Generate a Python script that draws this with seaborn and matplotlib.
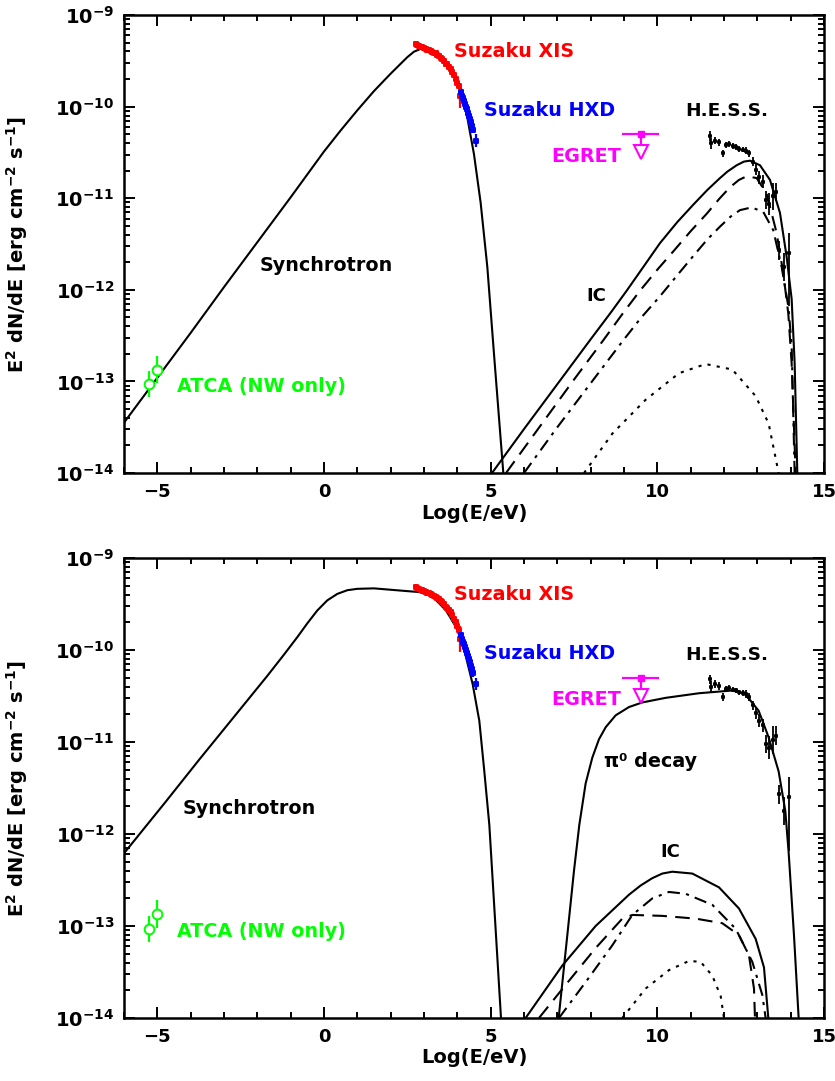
import numpy as np
import pandas as pd
import matplotlib
matplotlib.use('Agg')
import matplotlib.pyplot as plt
import seaborn as sns
from matplotlib.ticker import MultipleLocator, LogLocator, NullFormatter

# all values: x = log10(E/eV), y = log10(E^2 dN/dE)

# --- panel a (leptonic) ---
sync_a_x = [-6, -5, -4, -3, -2, -1, 0, 0.5, 1, 1.5, 2.0, 2.25, 2.5, 2.7, 2.9, 3.1, 3.3, 3.5, 3.7, 3.9,
            4.1, 4.3, 4.5, 4.7, 4.9, 5.1, 5.38]
sync_a_y = [-13.45, -12.96, -12.47, -11.97, -11.48, -10.99, -10.49, -10.26, -10.04, -9.83, -9.64, -9.55,
            -9.46, -9.40, -9.37, -9.37, -9.40, -9.45, -9.53, -9.64, -9.83, -10.12, -10.52, -11.05,
            -11.75, -12.7, -14.0]

ic_a_x = [5.04, 6.0, 7.0, 8.0, 8.6, 9.08, 9.6, 10.08, 10.6, 11.08, 11.5, 11.88, 12.1, 12.38, 12.6, 12.78,
          13.08, 13.38, 13.68, 13.88, 14.03, 14.12, 14.2]
ic_a_y = [-14.0, -13.52, -13.03, -12.54, -12.25, -12.01, -11.74, -11.49, -11.26, -11.07, -10.91, -10.78,
          -10.71, -10.64, -10.60, -10.59, -10.64, -10.80, -11.16, -11.64, -12.1, -12.8, -14.0]
ic_a2_x = [5.46, 6.5, 7.5, 8.38, 9.0, 9.48, 10.0, 10.48, 11.0, 11.48, 11.85, 12.18, 12.45, 12.68, 12.98,
           13.28, 13.58, 13.78, 13.93, 14.03, 14.15]
ic_a2_y = [-14.0, -13.48, -12.98, -12.55, -12.24, -12.01, -11.78, -11.58, -11.36, -11.17, -11.01, -10.88,
           -10.80, -10.76, -10.78, -10.95, -11.38, -11.82, -12.26, -12.8, -14.0]
ic_a3_x = [6.0, 7.0, 8.0, 8.98, 9.5, 10.08, 10.6, 11.08, 11.5, 11.88, 12.2, 12.48, 12.83, 13.18, 13.48,
           13.73, 13.93, 14.03, 14.12]
ic_a3_y = [-14.0, -13.5, -13.02, -12.55, -12.31, -12.07, -11.84, -11.63, -11.45, -11.31, -11.20, -11.13,
           -11.10, -11.15, -11.35, -11.75, -12.18, -12.6, -14.0]
ic_a4_x = [7.8, 8.65, 9.65, 10.65, 11.45, 12.25, 12.95, 13.34, 13.64]
ic_a4_y = [-14.0, -13.57, -13.20, -12.91, -12.81, -12.87, -13.16, -13.46, -14.0]

# --- panel b (hadronic) ---
sync_b_x = [-6, -4.75, -3.74, -2.73, -1.72, -1.2, -0.8, -0.5, -0.2, 0.1, 0.4, 0.7, 1.0, 1.5, 2.0, 2.5,
            2.86, 3.26, 3.66, 3.96, 4.16, 4.31, 4.46, 4.66, 4.81, 4.96, 5.31]
sync_b_y = [-12.21, -11.65, -11.19, -10.74, -10.29, -10.05, -9.86, -9.71, -9.57, -9.46, -9.39, -9.35,
            -9.335, -9.33, -9.345, -9.36, -9.37, -9.42, -9.57, -9.75, -9.93, -10.15, -10.37, -10.77,
            -11.32, -11.9, -14.0]

pi0_x = [7.04, 7.3, 7.5, 7.66, 7.85, 8.05, 8.25, 8.45, 8.75, 9.15, 9.55, 10.25, 11.25, 12.25, 12.64,
         13.04, 13.34, 13.64, 13.84, 13.94, 14.1, 14.24]
pi0_y = [-14.0, -13.1, -12.4, -11.9, -11.45, -11.17, -10.97, -10.84, -10.71, -10.62, -10.57, -10.52,
         -10.47, -10.44, -10.48, -10.66, -10.95, -11.32, -11.75, -12.2, -13.1, -14.0]

ic_b_x = [6.05, 7.15, 8.15, 9.15, 9.5, 9.85, 10.15, 10.45, 11.05, 11.85, 12.45, 12.95, 13.2, 13.33]
ic_b_y = [-14.0, -13.43, -13.0, -12.66, -12.56, -12.48, -12.43, -12.41, -12.43, -12.58, -12.81, -13.14,
          -13.45, -14.0]
ic_b2_x = [6.45, 7.25, 8.15, 8.95, 9.25, 10.15, 11.15, 11.95, 12.45, 12.75, 12.9, 12.93]
ic_b2_y = [-14.0, -13.64, -13.24, -12.92, -12.88, -12.89, -12.92, -12.97, -13.10, -13.32, -13.68, -14.0]
ic_b3_x = [7.05, 7.85, 8.65, 9.25, 9.85, 10.35, 10.85, 11.65, 12.35, 12.85, 13.15, 13.25]
ic_b3_y = [-14.0, -13.61, -13.21, -12.88, -12.70, -12.63, -12.65, -12.77, -13.03, -13.39, -13.75, -14.0]
ic_b4_x = [8.95, 9.65, 10.35, 10.95, 11.3, 11.65, 11.9, 12.0]
ic_b4_y = [-14.0, -13.68, -13.48, -13.38, -13.39, -13.54, -13.76, -14.0]

# --- data points (same in both panels) ---
atca_x = [-5.25, -5.0]
atca_y = [-13.03, -12.87]
atca_err = [0.14, 0.15]

xis_x = [2.76, 2.80, 2.85, 2.90, 2.95, 3.00, 3.05, 3.10, 3.15, 3.20, 3.25, 3.30, 3.35, 3.40,
         3.45, 3.50, 3.55, 3.60, 3.65, 3.70, 3.75, 3.80, 3.85, 3.90, 3.95, 4.00, 4.04, 4.08]
xis_y = [-9.32, -9.33, -9.34, -9.35, -9.35, -9.36, -9.37, -9.38, -9.38, -9.39, -9.40, -9.41, -9.42, -9.44,
         -9.45, -9.47, -9.48, -9.50, -9.53, -9.54, -9.57, -9.59, -9.62, -9.66, -9.70, -9.74, -9.78, -9.88]
xis_err = [0.03] * 27 + [0.14]

hxd_x = [4.11, 4.14, 4.17, 4.20, 4.23, 4.26, 4.29, 4.32, 4.35, 4.38, 4.41, 4.44, 4.47, 4.56]
hxd_y = [-9.84, -9.88, -9.91, -9.94, -9.97, -10.00, -10.03, -10.07, -10.10, -10.13, -10.17, -10.21, -10.25, -10.37]
hxd_err = [0.04] * 13 + [0.07]

egret_x = 9.5
egret_xlo, egret_xhi = 8.94, 10.05
egret_y = -10.30

hess_x = [11.57, 11.62, 11.72, 11.86, 11.96, 12.06, 12.16, 12.26, 12.36, 12.46, 12.56, 12.66,
          12.76, 12.86, 12.96, 13.06, 13.16, 13.26, 13.36, 13.46, 13.56, 13.66, 13.79, 13.94]
hess_y = [-10.32, -10.40, -10.37, -10.39, -10.51, -10.42, -10.41, -10.43, -10.44, -10.46, -10.47, -10.48,
          -10.51, -10.60, -10.69, -10.77, -10.82, -11.02, -11.06, -10.98, -10.93, -11.57, -11.75, -11.60]
hess_elo = [0.05, 0.06, 0.04, 0.04, 0.04, 0.03, 0.03, 0.03, 0.03, 0.03, 0.03, 0.04,
            0.04, 0.05, 0.06, 0.07, 0.07, 0.10, 0.12, 0.15, 0.10, 0.10, 0.15, 0.58]
hess_ehi = [0.05, 0.06, 0.04, 0.04, 0.04, 0.03, 0.03, 0.03, 0.03, 0.03, 0.03, 0.04,
            0.04, 0.05, 0.06, 0.07, 0.07, 0.10, 0.12, 0.15, 0.10, 0.10, 0.15, 0.22]

ytick_vals = [-14, -13, -12, -11, -10, -9]
ytick_labels = ['$10^{-14}$', '$10^{-13}$', '$10^{-12}$', '$10^{-11}$', '$10^{-10}$', '$10^{-9}$']

sns.set_style('ticks')
plt.rcParams['font.family'] = ['DejaVu Sans']
plt.rcParams['font.weight'] = 'bold'
plt.rcParams['axes.labelweight'] = 'bold'
plt.rcParams['mathtext.fontset'] = 'dejavusans'
plt.rcParams['mathtext.default'] = 'bf'
for k in ['text.color', 'axes.edgecolor', 'axes.labelcolor', 'xtick.color', 'ytick.color']:
    plt.rcParams[k] = 'black'

GREEN = '#00ff00'
RED = '#ff0000'
BLUE = '#0000ff'
MAG = '#ff00ff'
LBL = 13.8


def curve(ax, xs, ys, ls='-'):
    df = pd.DataFrame({'x': xs, 'y': 10.0 ** np.array(ys)})
    sns.lineplot(data=df, x='x', y='y', ax=ax, color='black', sort=False,
                 estimator=None, lw=1.5)
    ax.lines[-1].set_linestyle(ls)


def points(ax, xs, ys, elo, ehi, color, ms=2.5, marker='s', mfc=None, elw=1.6):
    ys = np.array(ys)
    yv = 10.0 ** ys
    lo = yv - 10.0 ** (ys - np.array(elo))
    hi = 10.0 ** (ys + np.array(ehi)) - yv
    ax.errorbar(xs, yv, yerr=[lo, hi], fmt='none', ecolor=color, elinewidth=elw, capsize=0)
    sns.scatterplot(x=xs, y=yv, ax=ax, color=color, marker=marker, s=ms ** 2,
                    edgecolor=color, facecolor=mfc if mfc else color, linewidth=1.4, zorder=3)


def data_and_frame(ax):
    ax.set_yscale('log')
    ax.set_xlim(-6, 15)
    ax.set_ylim(1e-14, 1e-9)

    points(ax, atca_x, atca_y, atca_err, atca_err, GREEN, ms=7, marker='o', mfc='white')
    points(ax, xis_x, xis_y, xis_err, xis_err, RED, ms=3)
    points(ax, hxd_x, hxd_y, hxd_err, hxd_err, BLUE, ms=3)
    points(ax, hess_x, hess_y, hess_elo, hess_ehi, 'black', ms=1.8, elw=1.3)

    # EGRET upper limit
    ey = 10.0 ** egret_y
    ax.hlines(ey, egret_xlo, egret_xhi, color=MAG, lw=1.6)
    ax.vlines(egret_x, 10.0 ** (egret_y - 0.13), ey, color=MAG, lw=1.6)
    ax.plot([egret_x], [ey], 's', color=MAG, ms=4)
    ax.plot([egret_x], [10.0 ** (egret_y - 0.2)], 'v', mfc='white', mec=MAG, mew=1.5, ms=10)

    ax.text(3.91, 10 ** -9.40, 'Suzaku XIS', color=RED, fontsize=LBL, va='center')
    ax.text(4.81, 10 ** -10.04, 'Suzaku HXD', color=BLUE, fontsize=LBL, va='center')
    ax.text(10.83, 10 ** -10.05, 'H.E.S.S.', color='black', fontsize=13.3, va='center')
    ax.text(6.81, 10 ** -10.54, 'EGRET', color=MAG, fontsize=LBL, va='center')
    ax.text(-4.42, 10 ** -13.06, 'ATCA (NW only)', color=GREEN, fontsize=LBL, va='center')

    ax.xaxis.set_major_locator(MultipleLocator(5))
    ax.xaxis.set_minor_locator(MultipleLocator(1))
    ax.set_yticks([10.0 ** v for v in ytick_vals], labels=ytick_labels)
    ax.yaxis.set_minor_locator(LogLocator(base=10, subs=np.arange(2, 10)))
    ax.yaxis.set_minor_formatter(NullFormatter())
    ax.tick_params(which='both', direction='in', top=True, right=True, width=1.4, labelsize=13)
    ax.tick_params(axis='y', labelsize=14)
    ax.tick_params(which='major', length=8, pad=7)
    ax.tick_params(which='minor', length=4)
    for sp in ax.spines.values():
        sp.set_linewidth(1.8)
    ax.set_xlabel('Log(E/eV)', fontsize=14, labelpad=2)
    ax.set_ylabel('E$^2$ dN/dE [erg cm$^{-2}$ s$^{-1}$]', fontsize=14)
    ax.yaxis.set_label_coords(-0.135, 0.5)


fig = plt.figure(figsize=(8.35, 10.81), dpi=100)
ax1 = fig.add_axes([0.1485, 0.5624, 0.8383, 0.4237])
ax2 = fig.add_axes([0.1485, 0.0583, 0.8383, 0.4255])

# panel a
curve(ax1, sync_a_x, sync_a_y)
curve(ax1, ic_a_x, ic_a_y)
curve(ax1, ic_a2_x, ic_a2_y, (0, (7, 4)))
curve(ax1, ic_a3_x, ic_a3_y, (0, (6, 3, 1.5, 3)))
curve(ax1, ic_a4_x, ic_a4_y, (0, (1.5, 3)))
data_and_frame(ax1)
ax1.text(-1.92, 10 ** -11.73, 'Synchrotron', fontsize=LBL, va='center')
ax1.text(7.86, 10 ** -12.07, 'IC', fontsize=13, va='center')

# panel b
curve(ax2, sync_b_x, sync_b_y)
curve(ax2, pi0_x, pi0_y)
curve(ax2, ic_b_x, ic_b_y)
curve(ax2, ic_b2_x, ic_b2_y, (0, (7, 4)))
curve(ax2, ic_b3_x, ic_b3_y, (0, (6, 3, 1.5, 3)))
curve(ax2, ic_b4_x, ic_b4_y, (0, (1.5, 3)))
data_and_frame(ax2)
ax2.text(-4.24, 10 ** -11.72, 'Synchrotron', fontsize=LBL, va='center')
ax2.text(10.38, 10 ** -12.2, 'IC', fontsize=13, va='center', ha='center')
ax2.text(8.4, 10 ** -11.21, 'π⁰ decay', fontsize=LBL, va='center')

fig.savefig('out.png', dpi=100)
